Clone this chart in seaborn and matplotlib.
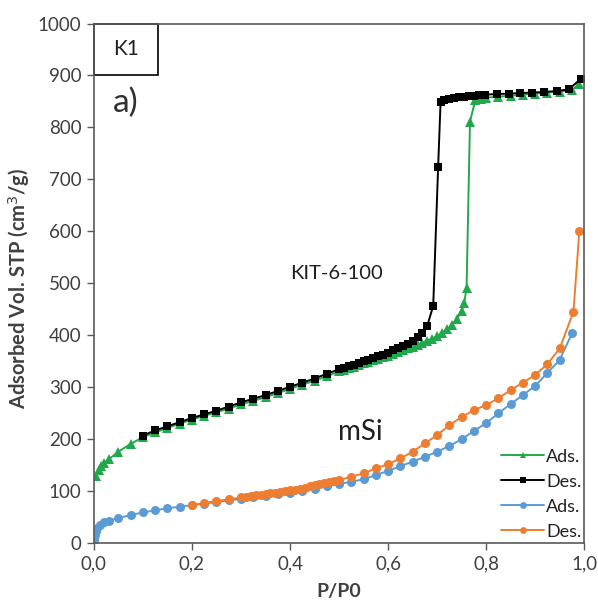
import matplotlib
matplotlib.use("Agg")
import matplotlib.pyplot as plt
import matplotlib.ticker as mticker
from matplotlib.patches import Rectangle
import seaborn as sns
import pandas as pd

# KIT-6-100 adsorption branch
kit_ads_x = [0.005, 0.01, 0.015, 0.02, 0.03, 0.05, 0.075,
             0.1, 0.125, 0.15, 0.175, 0.2, 0.225, 0.25, 0.275, 0.3, 0.325,
             0.35, 0.375, 0.4, 0.425, 0.45, 0.475,
             0.5, 0.51, 0.52, 0.53, 0.54, 0.55, 0.56, 0.57, 0.58, 0.59, 0.6,
             0.61, 0.62, 0.63, 0.64, 0.65, 0.66, 0.67, 0.68, 0.69, 0.7,
             0.71, 0.72, 0.73, 0.74, 0.75, 0.755, 0.76, 0.767, 0.778,
             0.79, 0.8, 0.825, 0.85, 0.875, 0.9, 0.925, 0.95, 0.975, 0.99]
kit_ads_y = [128, 140, 148, 153, 160, 175, 190,
             203, 212, 221, 229, 237, 244, 251, 258, 266, 273,
             280, 288, 296, 304, 312, 320,
             330, 333, 336, 339, 342, 345, 348, 351, 354, 357, 360,
             363, 367, 370, 374, 377, 381, 385, 389, 393, 398,
             404, 411, 419, 430, 446, 461, 490, 811, 853,
             855, 857, 859, 861, 863, 865, 867, 869, 872, 884]

# KIT-6-100 desorption branch
kit_des_x = [0.994, 0.968, 0.944, 0.917, 0.893, 0.87, 0.846, 0.822, 0.798,
             0.785, 0.775, 0.765, 0.755, 0.745, 0.735, 0.725, 0.715, 0.707,
             0.702, 0.692, 0.68, 0.67, 0.66, 0.65, 0.64, 0.63, 0.62, 0.61,
             0.6, 0.59, 0.58, 0.57, 0.56, 0.55, 0.54, 0.53, 0.52, 0.51, 0.5,
             0.475, 0.45, 0.425, 0.4, 0.375, 0.35, 0.325, 0.3, 0.275, 0.25,
             0.225, 0.2, 0.175, 0.15, 0.125, 0.1]
kit_des_y = [894, 873, 870, 868, 867, 866, 865, 864, 863,
             862, 861, 860, 859, 858, 857, 855, 852, 848,
             723, 456, 418, 404, 396, 388, 383, 378, 374, 370,
             366, 362, 359, 355, 352, 349, 346, 343, 340, 337, 334,
             325, 316, 308, 300, 292, 284, 277, 270, 262, 254,
             247, 240, 232, 224, 216, 206]

# mSi adsorption branch
msi_ads_x = [0.0005, 0.002, 0.004, 0.007, 0.012, 0.02, 0.03, 0.05, 0.075,
             0.1, 0.125, 0.15, 0.175, 0.2, 0.225, 0.25, 0.275, 0.3, 0.325,
             0.35, 0.375, 0.4, 0.425, 0.45, 0.475, 0.5, 0.525, 0.55, 0.575,
             0.6, 0.625, 0.65, 0.675, 0.7, 0.725, 0.75, 0.775, 0.8, 0.825,
             0.85, 0.875, 0.9, 0.925, 0.95, 0.975]
msi_ads_y = [5, 15, 22, 28, 34, 39, 42, 47, 53,
             58, 62, 66, 69, 72, 75, 78, 81, 84, 87,
             90, 93, 96, 100, 104, 108, 113, 117, 122, 130,
             138, 147, 156, 165, 175, 186, 199, 215, 230, 249,
             267, 284, 302, 327, 352, 403]

# mSi desorption branch
msi_des_x = [0.99, 0.978, 0.95, 0.925, 0.9, 0.875, 0.85, 0.825, 0.8, 0.775,
             0.75, 0.725, 0.7, 0.675, 0.65, 0.625, 0.6, 0.575, 0.55, 0.525,
             0.5, 0.49, 0.48, 0.47, 0.46, 0.45, 0.44, 0.43, 0.42, 0.41, 0.4,
             0.39, 0.38, 0.37, 0.36, 0.35, 0.34, 0.33, 0.32, 0.31, 0.3,
             0.275, 0.25, 0.225, 0.2]
msi_des_y = [600, 445, 374, 344, 323, 308, 294, 278, 265, 255,
             242, 226, 207, 191, 175, 162, 151, 143, 133, 127,
             120, 118, 116, 114, 112, 110, 108, 106, 104, 102, 101,
             99, 98, 96, 95, 94, 92, 91, 90, 88, 87,
             83, 80, 76, 72]

x_ticks = [0.0, 0.2, 0.4, 0.6, 0.8, 1.0]
y_ticks = list(range(0, 1001, 100))

sns.set_theme(style="white")
plt.rcParams["font.family"] = ["Lato", "DejaVu Sans"]

fig = plt.figure(figsize=(5.98, 6.03), dpi=100)
ax = fig.add_axes([0.157, 0.1003, 0.820, 0.8607])

series = [
    (kit_ads_x, kit_ads_y, "#22A84C", "^", 6.5, "Ads."),
    (kit_des_x, kit_des_y, "#000000", "s", 5.5, "Des."),
    (msi_ads_x, msi_ads_y, "#5B9BD5", "o", 6.5, "Ads."),
    (msi_des_x, msi_des_y, "#ED7D31", "o", 6.5, "Des."),
]
for xs, ys, col, mk, ms, lab in series:
    df = pd.DataFrame({"P/P0": xs, "V": ys})
    sns.lineplot(data=df, x="P/P0", y="V", ax=ax, color=col, marker=mk,
                 markersize=ms, markeredgewidth=0, linewidth=1.4,
                 sort=False, estimator=None, label=lab)

ax.set_xlim(0, 1)
ax.set_ylim(0, 1000)
ax.set_xticks(x_ticks)
ax.set_yticks(y_ticks)
ax.xaxis.set_major_formatter(mticker.FuncFormatter(lambda v, p: f"{v:.1f}".replace(".", ",")))
ax.tick_params(axis="both", which="major", direction="out", length=5, width=1,
               colors="#595959", labelcolor="#404040", labelsize=13.5, pad=4,
               bottom=True, left=True)
for s in ax.spines.values():
    s.set_color("#595959")
    s.set_linewidth(1.2)

ax.set_xlabel("P/P0", fontsize=14, fontweight="bold", color="#404040", labelpad=8)
ax.set_ylabel("Adsorbed Vol. STP (cm$^3$/g)", fontsize=14.5, fontweight="bold",
              color="#404040")
ax.yaxis.set_label_coords(-0.127, 0.49)

# sample tag in the upper-left corner
ax.add_patch(Rectangle((0, 0.9), 0.13, 0.1, transform=ax.transAxes,
                       fill=False, edgecolor="#000000", linewidth=1.2, clip_on=False))
ax.text(0.065, 0.95, "K1", transform=ax.transAxes, ha="center", va="center",
        fontsize=15, color="#202020")
ax.text(0.065, 847, "a)", ha="center", va="center", fontsize=24,
        color="#303030")
ax.text(0.495, 519, "KIT-6-100", ha="center", va="center", fontsize=14.5, color="#202020")
ax.text(0.544, 213, "mSi", ha="center", va="center", fontsize=20, color="#202020")

leg = ax.legend(loc="lower right", bbox_to_anchor=(1.0, 0.0), frameon=False,
                fontsize=13, handlelength=2.4, handletextpad=0.1,
                labelspacing=0.5, borderaxespad=0.0, borderpad=0.15,
                markerscale=0.75, labelcolor="#202020")

fig.savefig("out.png", dpi=100)
